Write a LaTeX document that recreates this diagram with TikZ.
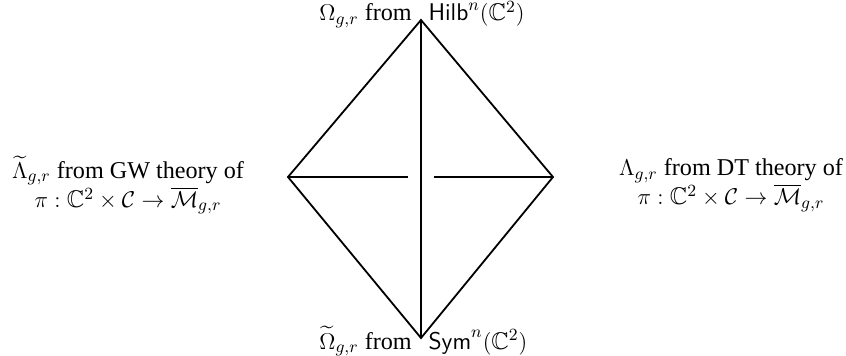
\documentclass[tikz,border=0pt]{standalone}
\usepackage{amsmath,amssymb}
\usepackage{fontspec}
\setmainfont{Liberation Serif}
\usepackage{tikz}
\usetikzlibrary{positioning}

\begin{document}
\begin{tikzpicture}[
  x=0.0185cm, y=-0.0185cm,
  edge/.style={line width=0.95pt},
  lbl/.style={align=center, inner sep=0pt, font=\fontsize{12.7}{13.7}\selectfont}
]
\useasboundingbox (0,0) rectangle (846,356);
% corners of the square
\coordinate (top) at (421,20);
\coordinate (bot) at (421,338);
\coordinate (lft) at (288,177);
\coordinate (rgt) at (553,177);
% where the back edge is broken
\coordinate (gapl) at (408,177);
\coordinate (gapr) at (434,177);

\node[lbl, anchor=base west] (hilb) at (319,21) {$\Omega_{g,r}$ from\hspace{0.7em}$\mathsf{Hilb}^n(\mathbb{C}^2)$};
\node[lbl, anchor=base west] (sym) at (319,349) {$\widetilde{\Omega}_{g,r}$ from\hspace{0.7em}$\mathsf{Sym}^n(\mathbb{C}^2)$};
\node[lbl] (gw) at (128,185) {$\widetilde{\Lambda}_{g,r}$ from GW theory of\\$\pi:\mathbb{C}^2\times\mathcal{C}\to\overline{\mathcal{M}}_{g,r}$};
\node[lbl] (dt) at (731,185) {$\Lambda_{g,r}$ from DT theory of\\$\pi:\mathbb{C}^2\times\mathcal{C}\to\overline{\mathcal{M}}_{g,r}$};

\draw[edge] (top) -- (lft) -- (bot) -- (rgt) -- cycle;
\draw[edge] (top) -- (bot);
\draw[edge] (lft) -- (gapl);
\draw[edge] (gapr) -- (rgt);
\end{tikzpicture}
\end{document}
